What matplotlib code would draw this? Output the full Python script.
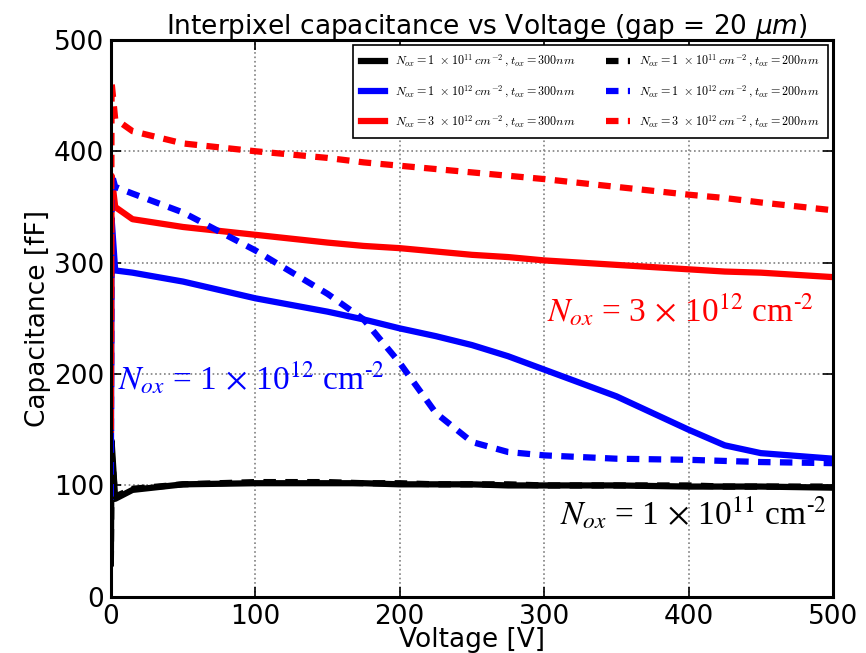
import matplotlib
matplotlib.use('Agg')
from matplotlib import pyplot as plt
from matplotlib.font_manager import FontProperties

# voltage points (V)
volt = [0, 0.5, 3, 15, 50, 100, 150, 175, 200, 225, 250, 275, 300, 350, 400, 425, 450, 500]

# capacitance (fF), t_ox = 300 nm
c_1e11_300 = [30, 140, 88, 96, 101, 102, 102, 102, 101, 101, 101, 100, 100, 100, 99, 99, 99, 98]
c_1e12_300 = [90, 340, 293, 291, 283, 268, 256, 249, 241, 234, 226, 216, 204, 180, 150, 136, 129, 124]
c_3e12_300 = [150, 378, 350, 339, 332, 325, 318, 315, 313, 310, 307, 305, 302, 298, 294, 292, 291, 287]

# capacitance (fF), t_ox = 200 nm
c_1e11_200 = [30, 130, 90, 97, 101, 103, 103, 102, 102, 101, 101, 101, 100, 100, 100, 99, 99, 99]
c_1e12_200 = [90, 380, 368, 362, 345, 311, 272, 249, 210, 165, 139, 130, 127, 124, 123, 122, 121, 120]
c_3e12_200 = [150, 462, 429, 418, 407, 400, 394, 390, 387, 384, 381, 378, 375, 368, 361, 358, 354, 347]

labels = [
    r'$N_{ox}=1\ \times 10^{11}\,cm^{-2}\,,t_{ox}=300nm$',
    r'$N_{ox}=1\ \times 10^{12}\,cm^{-2}\,,t_{ox}=300nm$',
    r'$N_{ox}=3\ \times 10^{12}\,cm^{-2}\,,t_{ox}=300nm$',
    r'$N_{ox}=1\ \times 10^{11}\,cm^{-2}\,,t_{ox}=200nm$',
    r'$N_{ox}=1\ \times 10^{12}\,cm^{-2}\,,t_{ox}=200nm$',
    r'$N_{ox}=3\ \times 10^{12}\,cm^{-2}\,,t_{ox}=200nm$',
]

fig = plt.figure(figsize=(8.66, 6.53), dpi=100)
ax = fig.add_axes([0.128, 0.086, 0.834, 0.853])

lw = 4.5
dash = (2.0, 1.5)
ax.plot(volt, c_1e11_300, color='black', lw=lw, label=labels[0])
ax.plot(volt, c_1e12_300, color='blue', lw=lw, label=labels[1])
ax.plot(volt, c_3e12_300, color='red', lw=lw, label=labels[2])
ax.plot(volt, c_1e11_200, color='black', lw=lw, dashes=dash, label=labels[3])
ax.plot(volt, c_1e12_200, color='blue', lw=lw, dashes=dash, label=labels[4])
ax.plot(volt, c_3e12_200, color='red', lw=lw, dashes=dash, label=labels[5])

ax.set_xlim(0, 500)
ax.set_ylim(0, 500)
ax.set_xticks([0, 100, 200, 300, 400, 500])
ax.set_yticks([0, 100, 200, 300, 400, 500])
ax.grid(True, color='gray', linestyle=':', linewidth=1.2)
ax.tick_params(direction='in', length=7, width=1.2, labelsize=19, top=True, right=True, pad=5)
for s in ax.spines.values():
    s.set_linewidth(2.2)

ax.set_title(r'Interpixel capacitance vs Voltage (gap = 20 $\mu m$)', fontsize=19, pad=4, x=0.52)
ax.set_xlabel('Voltage [V]', fontsize=19, labelpad=-2)
ax.set_ylabel('Capacitance [fF]', fontsize=19, labelpad=2)

leg_font = FontProperties(family='DejaVu Serif', size=8.7, math_fontfamily='cm')
leg = ax.legend(loc='upper right', ncol=2, prop=leg_font, handlelength=2.0,
                handletextpad=0.8, fancybox=False, edgecolor='black', framealpha=1,
                borderaxespad=0.4, borderpad=0.7, columnspacing=2.5, labelspacing=1.15)
leg.get_frame().set_linewidth(1.2)

ann = dict(family='Liberation Serif', fontsize=24, math_fontfamily='stix',
           ha='left', va='baseline')
ax.text(302, 247, r'$N_{ox}$ = 3$\,\times\,$10$^{12}$ cm$^{\text{-}2}$', color='red', **ann)
ax.text(5, 186, r'$N_{ox}$ = 1$\,\times\,$10$^{12}$ cm$^{\text{-}2}$', color='blue', **ann)
ax.text(311, 65, r'$N_{ox}$ = 1$\,\times\,$10$^{11}$ cm$^{\text{-}2}$', color='black', **ann)

fig.savefig('out.png', dpi=100)
